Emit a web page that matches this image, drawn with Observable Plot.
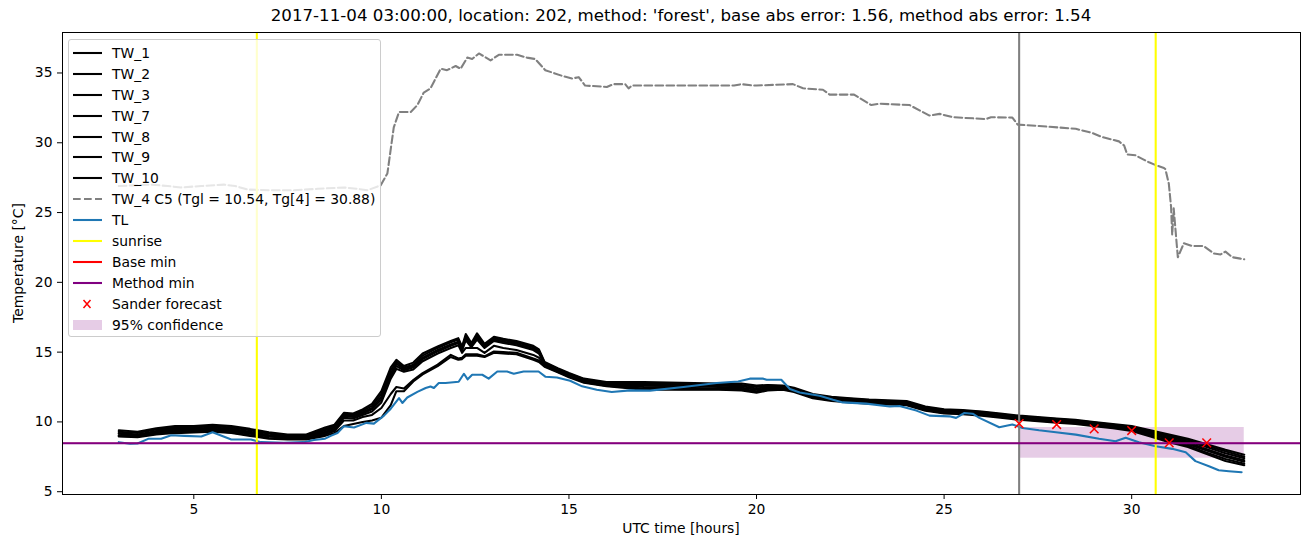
<!DOCTYPE html>
<html><head><meta charset="utf-8">
<script src="https://cdn.jsdelivr.net/npm/d3@7"></script>
<script src="https://cdn.jsdelivr.net/npm/@observablehq/plot@0.6"></script>
<style>
body{margin:0;background:#fff;font-family:"DejaVu Sans",sans-serif;}
#wrap{position:relative;width:1310px;height:547px;overflow:hidden;}
#title{position:absolute;left:62px;width:1238px;top:6px;text-align:center;font-size:16.67px;line-height:20px;color:#000;white-space:nowrap;}
#xlabel{position:absolute;left:62px;width:1238px;top:520px;text-align:center;font-size:13.89px;line-height:17px;}
#ylabel{position:absolute;left:18px;top:263px;transform:translate(-50%,-50%) rotate(-90deg);font-size:13.89px;white-space:nowrap;line-height:17px;}
#legend{position:absolute;left:68px;top:39px;width:311px;height:296px;border:1px solid #cccccc;border-radius:3px;background:rgba(255,255,255,0.8);}
.row{position:absolute;left:0;height:20px;font-size:13.89px;line-height:20px;}
.row svg{position:absolute;left:3px;top:0;}
.row span{position:absolute;left:43px;top:0;white-space:nowrap;}
</style></head><body>
<div id="wrap">
<div id="chart"></div>
<div id="title">2017-11-04 03:00:00, location: 202, method: 'forest', base abs error: 1.56, method abs error: 1.54</div>
<div id="xlabel">UTC time [hours]</div>
<div id="ylabel">Temperature [°C]</div>
<div id="legend"></div>
</div>
<script>
// ---------- data ----------
const xTicks = [5, 10, 15, 20, 25, 30];
const yTicks = [5, 10, 15, 20, 25, 30, 35];

const twTimes = [3, 3.5, 4, 4.5, 5, 5.5, 6, 6.5, 7, 7.5, 8, 8.5, 8.75, 9, 9.25, 9.5, 9.75, 10, 10.25, 10.4, 10.6, 10.85, 11.1, 11.5, 11.85, 12.05, 12.15, 12.25, 12.4, 12.55, 12.75, 13, 13.25, 13.6, 14.05, 14.2, 14.35, 14.7, 15, 15.4, 16, 17, 18, 19, 19.6, 20, 20.3, 20.7, 21, 21.5, 22, 22.5, 23, 23.5, 24, 24.5, 25, 25.5, 26, 26.5, 27, 27.5, 28, 28.5, 29, 29.5, 30, 30.5, 31, 31.5, 32, 32.5, 33];

const TW_1 = [9.4, 9.3, 9.55, 9.7, 9.7, 9.8, 9.7, 9.5, 9.25, 9.1, 9.1, 9.6, 9.8, 10.65, 10.6, 10.9, 11.3, 12.2, 13.9, 14.45, 14.0, 14.25, 14.9, 15.4, 15.8, 16.0, 15.4, 16.3, 15.65, 16.35, 15.6, 16.1, 15.95, 15.8, 15.45, 15.2, 14.3, 13.85, 13.5, 13.1, 12.85, 12.85, 12.8, 12.75, 12.75, 12.6, 12.65, 12.6, 12.45, 12.0, 11.8, 11.7, 11.6, 11.55, 11.5, 11.1, 10.9, 10.85, 10.75, 10.6, 10.45, 10.35, 10.25, 10.15, 10.0, 9.85, 9.7, 9.4, 9.1, 8.8, 8.4, 8.0, 7.65];
const TW_2 = [9.3, 9.2, 9.45, 9.6, 9.6, 9.7, 9.6, 9.4, 9.15, 9.0, 9.0, 9.5, 9.7, 10.55, 10.5, 10.8, 11.15, 12.0, 13.7, 14.3, 13.9, 14.1, 14.75, 15.3, 15.7, 15.9, 15.3, 16.15, 15.55, 16.2, 15.5, 16.0, 15.85, 15.7, 15.35, 15.1, 14.25, 13.8, 13.45, 13.05, 12.8, 12.75, 12.7, 12.65, 12.65, 12.5, 12.6, 12.55, 12.4, 11.95, 11.75, 11.65, 11.55, 11.5, 11.45, 11.05, 10.85, 10.8, 10.7, 10.55, 10.4, 10.3, 10.2, 10.1, 9.95, 9.8, 9.65, 9.35, 9.0, 8.7, 8.3, 7.9, 7.5];
const TW_3 = [9.2, 9.1, 9.35, 9.5, 9.5, 9.6, 9.5, 9.3, 9.05, 8.95, 8.95, 9.4, 9.6, 10.5, 10.45, 10.7, 11.0, 11.8, 13.5, 14.15, 13.8, 14.0, 14.6, 15.15, 15.55, 15.75, 15.2, 16.0, 15.45, 16.05, 15.4, 15.9, 15.75, 15.6, 15.25, 15.0, 14.2, 13.75, 13.4, 13.0, 12.75, 12.7, 12.65, 12.6, 12.55, 12.4, 12.5, 12.5, 12.35, 11.9, 11.7, 11.6, 11.5, 11.45, 11.4, 11.0, 10.8, 10.75, 10.65, 10.5, 10.35, 10.25, 10.15, 10.05, 9.9, 9.75, 9.6, 9.3, 8.95, 8.6, 8.2, 7.75, 7.4];
const TW_7 = [9.15, 9.05, 9.3, 9.45, 9.45, 9.5, 9.4, 9.2, 9.0, 8.9, 8.9, 9.3, 9.5, 10.4, 10.35, 10.6, 10.9, 11.6, 13.3, 14.0, 13.7, 13.9, 14.5, 15.05, 15.45, 15.65, 15.1, 15.85, 15.35, 15.9, 15.3, 15.8, 15.65, 15.5, 15.15, 14.9, 14.15, 13.7, 13.35, 12.95, 12.7, 12.6, 12.55, 12.5, 12.45, 12.3, 12.4, 12.45, 12.3, 11.85, 11.65, 11.55, 11.45, 11.4, 11.35, 10.95, 10.75, 10.7, 10.6, 10.45, 10.3, 10.2, 10.1, 10.0, 9.85, 9.7, 9.55, 9.2, 8.85, 8.5, 8.05, 7.6, 7.25];
const TW_8 = [9.05, 9.0, 9.2, 9.35, 9.35, 9.45, 9.35, 9.15, 8.95, 8.85, 8.85, 9.2, 9.45, 10.3, 10.25, 10.5, 10.75, 11.4, 13.1, 13.8, 13.6, 13.75, 14.35, 14.9, 15.3, 15.5, 14.95, 15.3, 15.3, 15.3, 14.95, 15.45, 15.3, 15.15, 14.8, 14.6, 14.1, 13.65, 13.3, 12.9, 12.65, 12.5, 12.45, 12.4, 12.35, 12.2, 12.35, 12.4, 12.25, 11.8, 11.6, 11.5, 11.4, 11.35, 11.3, 10.9, 10.7, 10.65, 10.55, 10.4, 10.25, 10.15, 10.05, 9.95, 9.8, 9.65, 9.5, 9.15, 8.75, 8.4, 7.95, 7.5, 7.15];
const TW_9 = [9.0, 8.95, 9.15, 9.3, 9.3, 9.35, 9.25, 9.05, 8.85, 8.8, 8.8, 9.1, 9.35, 10.1, 10.1, 10.35, 10.5, 11.0, 12.0, 12.5, 12.4, 13.0, 13.5, 14.1, 14.8, 14.55, 14.6, 14.85, 14.85, 14.85, 14.7, 15.05, 15.0, 14.95, 14.55, 14.4, 14.0, 13.6, 13.25, 12.85, 12.6, 12.4, 12.35, 12.35, 12.3, 12.15, 12.3, 12.35, 12.2, 11.75, 11.55, 11.45, 11.35, 11.3, 11.25, 10.85, 10.65, 10.6, 10.5, 10.35, 10.2, 10.1, 10.0, 9.9, 9.75, 9.6, 9.45, 9.05, 8.65, 8.3, 7.8, 7.35, 7.0];
const TW_10 = [8.95, 8.9, 9.1, 9.2, 9.25, 9.3, 9.2, 9.0, 8.8, 8.75, 8.75, 9.0, 9.2, 9.7, 9.85, 10.0, 10.1, 10.3, 11.2, 12.2, 12.2, 12.9, 13.4, 14.0, 14.65, 14.45, 14.5, 14.75, 14.75, 14.75, 14.65, 14.95, 14.9, 14.85, 14.45, 14.3, 13.95, 13.55, 13.2, 12.8, 12.55, 12.3, 12.3, 12.3, 12.25, 12.1, 12.25, 12.3, 12.15, 11.7, 11.5, 11.4, 11.3, 11.25, 11.2, 10.8, 10.6, 10.55, 10.45, 10.3, 10.15, 10.05, 9.95, 9.85, 9.7, 9.55, 9.35, 8.95, 8.55, 8.2, 7.7, 7.2, 6.9];

const tw4Times = [3.0, 3.4, 3.87, 4.3, 4.66, 5.2, 5.8, 6.1, 6.44, 7.0, 7.67, 8.3, 9.0, 9.36, 9.63, 9.98, 10.16, 10.33, 10.47, 10.78, 10.96, 11.13, 11.31, 11.58, 11.75, 11.98, 12.11, 12.29, 12.42, 12.6, 12.91, 13.13, 13.62, 13.88, 14.1, 14.37, 14.81, 15.08, 15.26, 15.43, 16.01, 16.19, 16.5, 16.59, 16.68, 18.0, 19.4, 19.6, 19.9, 20.0, 20.97, 21.24, 21.77, 21.95, 22.6, 23.06, 23.28, 24.08, 24.61, 24.88, 25.23, 26.12, 26.25, 26.82, 26.96, 27.53, 28.51, 28.95, 29.22, 29.66, 29.8, 29.88, 30.1, 30.46, 30.64, 30.86, 30.9, 30.99, 31.05, 31.08, 31.12, 31.17, 31.23, 31.39, 31.61, 31.92, 32.19, 32.37, 32.5, 32.68, 32.9, 33.0];
const TW_4 = [26.9, 26.95, 27.0, 26.9, 26.8, 26.9, 27.0, 26.9, 26.65, 26.6, 26.6, 26.7, 26.8, 26.7, 26.6, 26.95, 27.8, 31.1, 32.2, 32.2, 32.7, 33.6, 33.9, 35.3, 35.2, 35.5, 35.3, 36.1, 36.0, 36.4, 35.9, 36.3, 36.3, 36.1, 36.0, 35.2, 34.8, 34.6, 34.7, 34.1, 34.0, 34.2, 34.2, 33.9, 34.1, 34.1, 34.1, 34.2, 34.1, 34.1, 34.2, 33.9, 33.8, 33.45, 33.45, 32.7, 32.8, 32.7, 31.95, 32.07, 31.83, 31.7, 31.83, 31.8, 31.3, 31.2, 31.0, 30.7, 30.4, 30.1, 29.8, 29.16, 29.1, 28.6, 28.4, 28.2, 28.1, 27.07, 25.4, 23.4, 25.3, 23.7, 21.8, 22.8, 22.6, 22.6, 22.07, 22.0, 22.2, 21.8, 21.7, 21.65];

const tlTimes = [3.0, 3.3, 3.5, 3.8, 4.13, 4.4, 4.75, 5.2, 5.5, 6.0, 6.52, 6.79, 7.4, 7.93, 8.2, 8.5, 8.65, 8.83, 9.0, 9.27, 9.6, 9.8, 10.07, 10.25, 10.47, 10.56, 10.69, 10.96, 11.18, 11.31, 11.4, 11.53, 11.71, 12.06, 12.2, 12.3, 12.42, 12.69, 12.86, 13.09, 13.35, 13.53, 13.79, 14.19, 14.37, 14.68, 15.03, 15.35, 15.74, 16.14, 16.63, 17.16, 18.05, 18.94, 19.51, 19.82, 20.18, 20.27, 20.66, 20.89, 21.15, 21.68, 22.04, 22.3, 22.92, 23.55, 23.81, 24.26, 24.61, 25.14, 25.32, 25.54, 25.76, 25.94, 26.47, 26.82, 27.09, 27.53, 27.98, 28.51, 29.13, 29.57, 29.84, 30.19, 30.64, 31.08, 31.44, 31.7, 32.06, 32.32, 32.59, 32.93];
const TL = [8.55, 8.43, 8.45, 8.8, 8.8, 9.05, 9.0, 8.95, 9.26, 8.74, 8.74, 8.55, 8.5, 8.55, 8.7, 8.8, 9.0, 9.2, 9.69, 9.6, 9.93, 9.88, 10.45, 10.95, 11.71, 11.36, 11.75, 12.15, 12.43, 12.54, 12.43, 12.79, 12.79, 12.88, 13.45, 13.05, 13.38, 13.38, 13.1, 13.61, 13.61, 13.45, 13.61, 13.61, 13.24, 13.18, 12.95, 12.55, 12.31, 12.14, 12.26, 12.24, 12.5, 12.79, 12.9, 13.1, 13.1, 13.02, 13.02, 12.36, 12.11, 11.88, 11.59, 11.4, 11.31, 11.11, 11.14, 10.81, 10.45, 10.4, 10.29, 10.64, 10.59, 10.29, 9.62, 9.81, 9.57, 9.4, 9.26, 9.09, 8.79, 8.61, 8.86, 8.54, 8.26, 8.07, 7.83, 7.19, 6.83, 6.54, 6.47, 6.4];

const sunriseTimes = [6.68, 30.64];
const nowTimes = [27];
const baseMin = [8.47];
const methodMin = [8.47];
const forecastTimes = [27, 28, 29, 30, 31, 32];
const forecastValues = [9.88, 9.81, 9.5, 9.38, 8.5, 8.5];
const confTimes = [27, 33];
const confBounds = [7.4, 9.6];

// ---------- tables ----------
const twNames = ["TW_1", "TW_2", "TW_3", "TW_7", "TW_8", "TW_9", "TW_10"];
const twSeries = [TW_1, TW_2, TW_3, TW_7, TW_8, TW_9, TW_10];
const twData = twSeries.flatMap((vals, i) => vals.map((v, j) => ({t: twTimes[j], v, s: twNames[i]})));
const tw4Data = TW_4.map((v, j) => ({t: tw4Times[j], v}));
const tlData = TL.map((v, j) => ({t: tlTimes[j], v}));
const fcData = forecastValues.map((v, j) => ({t: forecastTimes[j], v}));
const confData = [{x1: confTimes[0], x2: confTimes[1], y1: confBounds[0], y2: confBounds[1]}];

const LW = 2.08;
const chart = Plot.plot({
  width: 1310, height: 547,
  marginTop: 32, marginRight: 10, marginBottom: 53, marginLeft: 62,
  style: {fontFamily: "DejaVu Sans", fontSize: "13.89px", color: "black", background: "white"},
  x: {domain: [1.5, 34.5]},
  y: {domain: [4.8, 37.9]},
  marks: [
    Plot.rect(confData, {x1: "x1", x2: "x2", y1: "y1", y2: "y2", fill: "purple", fillOpacity: 0.2}),
    Plot.line(twData, {x: "t", y: "v", z: "s", stroke: "black", strokeWidth: LW, strokeLinejoin: "round"}),
    Plot.line(tw4Data, {x: "t", y: "v", stroke: "gray", strokeWidth: LW, strokeDasharray: "7.7,3.3"}),
    Plot.line(tlData, {x: "t", y: "v", stroke: "#1f77b4", strokeWidth: LW, strokeLinejoin: "round"}),
    Plot.ruleX(sunriseTimes, {stroke: "yellow", strokeWidth: LW}),
    Plot.ruleX(nowTimes, {stroke: "gray", strokeWidth: LW}),
    Plot.ruleY(baseMin, {stroke: "red", strokeWidth: 1.2}),
    Plot.ruleY(methodMin, {stroke: "purple", strokeWidth: LW}),
    Plot.dot(fcData, {x: "t", y: "v", symbol: "times", r: 4, stroke: "red", strokeWidth: 1.5}),
    Plot.axisX({ticks: xTicks, tickSize: 5, tickPadding: 5, label: null, tickFormat: d => String(d)}),
    Plot.axisY({ticks: yTicks, tickSize: 5, tickPadding: 5, label: null, tickFormat: d => String(d)}),
    Plot.frame({stroke: "black", strokeWidth: 1})
  ]
});
document.getElementById("chart").appendChild(chart);

// ---------- legend ----------
const legendItems = [
  ...twNames.map(n => ({label: n, type: "line", color: "black"})),
  {label: "TW_4 C5 (Tgl = 10.54, Tg[4] = 30.88)", type: "dash", color: "gray"},
  {label: "TL", type: "line", color: "#1f77b4"},
  {label: "sunrise", type: "line", color: "yellow"},
  {label: "Base min", type: "line", color: "red"},
  {label: "Method min", type: "line", color: "purple"},
  {label: "Sander forecast", type: "x", color: "red"},
  {label: "95% confidence", type: "patch", color: "rgba(128,0,128,0.2)"}
];
const leg = d3.select("#legend");
legendItems.forEach((it, i) => {
  const row = leg.append("div").attr("class", "row").style("top", (2.7 + i * 20.95) + "px");
  const svg = row.append("svg").attr("width", 32).attr("height", 20);
  if (it.type === "line" || it.type === "dash") {
    svg.append("line").attr("x1", 1).attr("x2", 30).attr("y1", 10).attr("y2", 10)
      .attr("stroke", it.color).attr("stroke-width", LW)
      .attr("stroke-dasharray", it.type === "dash" ? "7.7,3.3" : null);
  } else if (it.type === "x") {
    svg.append("path").attr("d", "M11.5,6L18.5,14M11.5,14L18.5,6").attr("stroke", it.color).attr("stroke-width", 1.5);
  } else {
    svg.append("rect").attr("x", 1).attr("y", 5).attr("width", 29).attr("height", 10).attr("fill", it.color);
  }
  row.append("span").text(it.label);
});
</script>
</body></html>
